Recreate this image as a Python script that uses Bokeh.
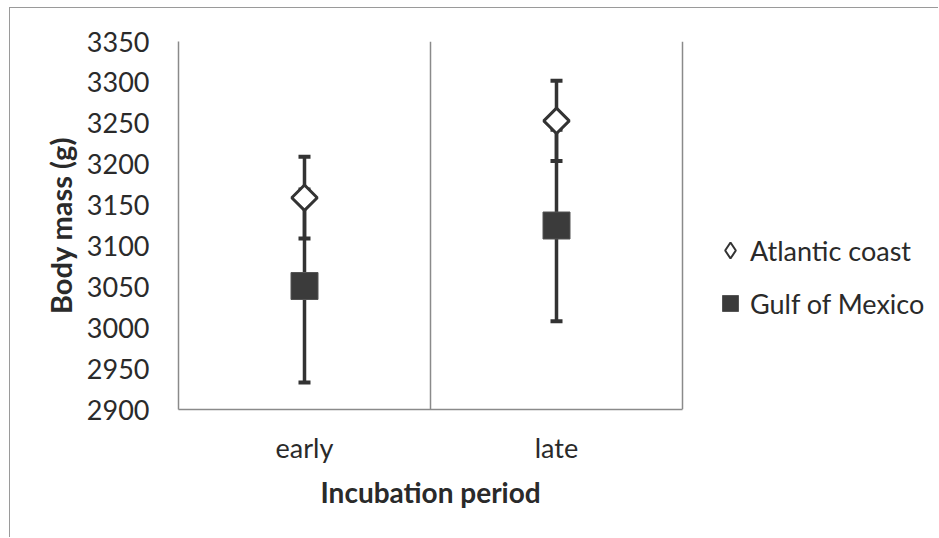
import numpy as np
from bokeh.plotting import figure
from bokeh.models import (ColumnDataSource, Whisker, TeeHead, FixedTicker,
                          Legend, LegendItem, Range1d, Title)
from bokeh.embed import file_html
from bokeh.resources import INLINE

# ---- data ----
periods = ["early", "late"]
atlantic_mean = [3159, 3253]
atlantic_err = [50, 49]
gulf_mean = [3051, 3125]
gulf_err = [118, 117]
y_ticks = [2900, 2950, 3000, 3050, 3100, 3150, 3200, 3250, 3300, 3350]

xpos = [i + 0.5 for i in range(len(periods))]

atl = ColumnDataSource(dict(
    x=xpos, y=atlantic_mean,
    upper=[m + e for m, e in zip(atlantic_mean, atlantic_err)],
    lower=[m - e for m, e in zip(atlantic_mean, atlantic_err)]))
gul = ColumnDataSource(dict(
    x=xpos, y=gulf_mean,
    upper=[m + e for m, e in zip(gulf_mean, gulf_err)],
    lower=[m - e for m, e in zip(gulf_mean, gulf_err)]))

TXT = "#2a2a2a"
DARK = "#333333"
AX = "#8a8a8a"
FONT = "Lato"

# layout (pixels)
W, H = 929, 530
LEFT, TOP, BOTTOM = 168, 33, 129
DATA_W = 504          # width of the bordered plotting box
FRAME_W = W - LEFT    # frame extends to the right edge so the legend is not clipped
x_end = len(periods) * FRAME_W / DATA_W

p = figure(width=W, height=H, output_backend="svg", toolbar_location=None,
           x_range=Range1d(0, x_end), y_range=Range1d(y_ticks[0], y_ticks[-1]),
           min_border_left=LEFT, min_border_right=0, min_border_top=TOP,
           min_border_bottom=BOTTOM)
p.styles = {"border-left": "1px solid #9a9a9a", "border-top": "1px solid #9a9a9a",
            "margin-left": "9px", "margin-top": "7px"}
p.outline_line_color = None
p.background_fill_color = "white"
p.border_fill_color = "white"

# error bars
for src in (gul, atl):
    w = Whisker(source=src, base="x", upper="upper", lower="lower",
                line_color=DARK, line_width=3.5,
                upper_head=TeeHead(size=12, line_color=DARK, line_width=4),
                lower_head=TeeHead(size=12, line_color=DARK, line_width=4))
    p.add_layout(w)

r_atl = p.scatter("x", "y", source=atl, marker="square", angle=np.pi / 4, size=18,
                  fill_color="white", line_color=DARK, line_width=3)
r_gul = p.scatter("x", "y", source=gul, marker="square", size=27,
                  fill_color="#3b3b3b", line_color="#555555", line_width=1)
# legend-only diamond (legend glyphs are drawn without rotation)
r_atl_key = p.scatter("x", "y", source=atl, marker="diamond", size=18,
                      fill_color="white", line_color=DARK, line_width=2,
                      visible=False)

# axes
p.yaxis.ticker = FixedTicker(ticks=y_ticks)
p.yaxis.major_tick_line_color = None
p.yaxis.minor_tick_line_color = None
p.yaxis.axis_line_color = AX
p.yaxis.axis_line_width = 1.5
p.yaxis.major_label_text_font = FONT
p.yaxis.major_label_text_font_size = "27px"
p.yaxis.major_label_text_color = TXT
p.yaxis.major_label_standoff = 23
p.yaxis.axis_label = "Body mass (g)"
p.yaxis.axis_label_text_font = FONT
p.yaxis.axis_label_text_font_style = "bold"
p.yaxis.axis_label_text_font_size = "29px"
p.yaxis.axis_label_text_color = TXT
p.yaxis.axis_label_standoff = 6

p.xaxis.ticker = FixedTicker(ticks=xpos)
p.xaxis.bounds = (0, len(periods))
p.xaxis.major_label_overrides = {x: lab for x, lab in zip(xpos, periods)}
p.xaxis.major_tick_line_color = None
p.xaxis.minor_tick_line_color = None
p.xaxis.axis_line_color = AX
p.xaxis.axis_line_width = 1.5
p.xaxis.major_label_text_font = FONT
p.xaxis.major_label_text_font_size = "27px"
p.xaxis.major_label_text_color = TXT
p.xaxis.major_label_standoff = 15

# x-axis title centred under the bordered box (not the wider frame)
xtitle = Title(text="Incubation period", align="left", offset=142, standoff=12,
               text_font=FONT, text_font_style="bold", text_font_size="28px",
               text_color=TXT)
p.add_layout(xtitle, "below")

p.ygrid.grid_line_color = None
p.xgrid.ticker = FixedTicker(ticks=list(range(1, len(periods) + 1)))
p.xgrid.grid_line_color = AX
p.xgrid.grid_line_width = 1.5

legend = Legend(items=[LegendItem(label="Atlantic coast", renderers=[r_atl_key]),
                       LegendItem(label="Gulf of Mexico", renderers=[r_gul])],
                location=(DATA_W + 28, 86))
legend.glyph_width = 40
legend.glyph_height = 40
legend.label_height = 40
legend.spacing = 13
legend.padding = 0
legend.margin = 0
legend.label_standoff = 0
legend.border_line_color = None
legend.background_fill_alpha = 0
legend.inactive_fill_alpha = 0
legend.click_policy = "none"
legend.label_text_font = FONT
legend.label_text_font_size = "27px"
legend.label_text_color = TXT
p.add_layout(legend, "center")

open("out.html", "w").write(file_html(p, INLINE))
